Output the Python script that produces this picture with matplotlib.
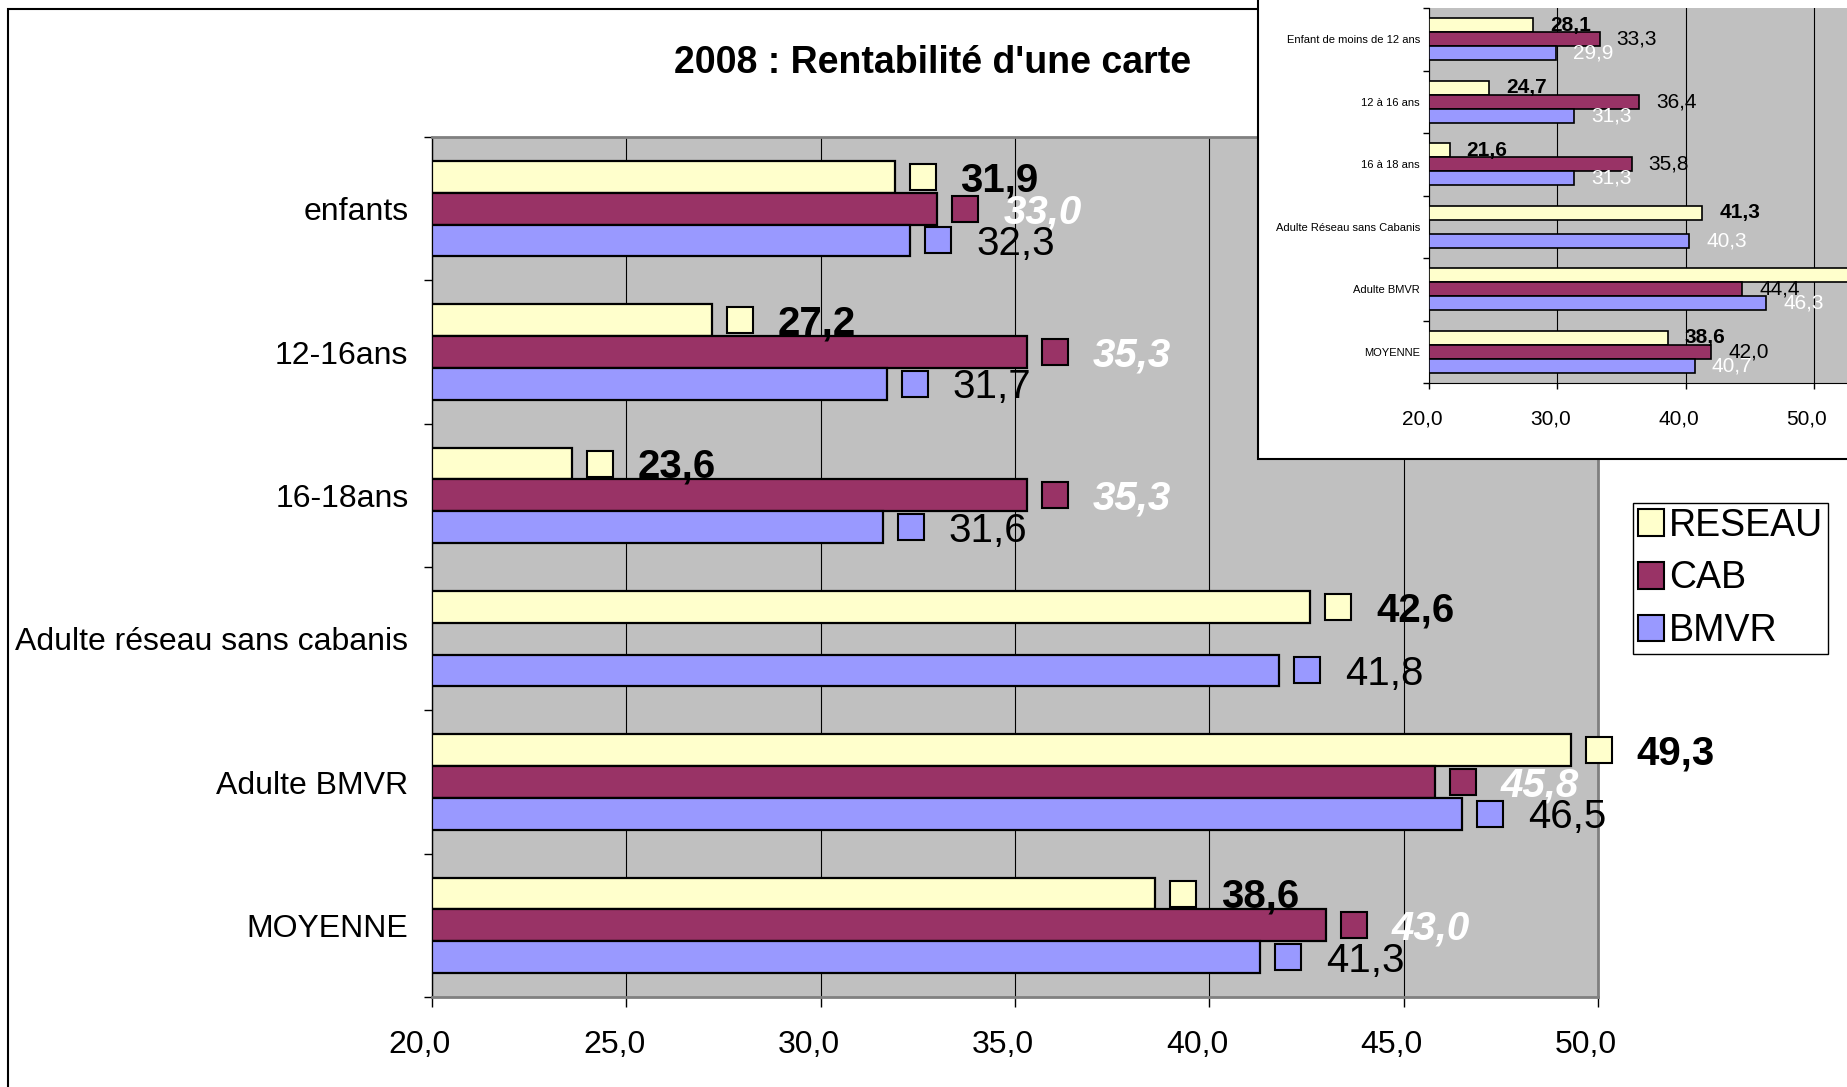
import numpy as np
import matplotlib
matplotlib.use("Agg")
import matplotlib.pyplot as plt
from matplotlib.patches import Rectangle
from matplotlib.transforms import offset_copy, ScaledTranslation
from matplotlib.ticker import FixedLocator

plt.rcParams['font.family'] = ['Liberation Sans', 'DejaVu Sans']

# ---------------- data (main chart) ----------------
categories = ["enfants", "12-16ans", "16-18ans", "Adulte réseau sans cabanis",
              "Adulte BMVR", "MOYENNE"]
series_names = ["RESEAU", "CAB", "BMVR"]
reseau = [31.9, 27.2, 23.6, 42.6, 49.3, 38.6]
cab = [33.0, 35.3, 35.3, np.nan, 45.8, 43.0]
bmvr = [32.3, 31.7, 31.6, 41.8, 46.5, 41.3]
x_ticks = [20.0, 25.0, 30.0, 35.0, 40.0, 45.0, 50.0]
title = "2008 : Rentabilité d'une carte"

# ---------------- data (inset chart) ----------------
inset_categories = ["Enfant de moins de 12 ans", "12 à 16 ans", "16 à 18 ans",
                    "Adulte Réseau sans Cabanis", "Adulte BMVR", "MOYENNE"]
inset_reseau = [28.1, 24.7, 21.6, 41.3, 55.0, 38.6]
inset_cab = [33.3, 36.4, 35.8, np.nan, 44.4, 42.0]
inset_bmvr = [29.9, 31.3, 31.3, 40.3, 46.3, 40.7]
inset_x_ticks = [20.0, 30.0, 40.0, 50.0, 60.0]

colors = ["#FFFFCC", "#993366", "#9999FF"]
plot_bg = "#C0C0C0"

W, H = 1847, 1087
fig = plt.figure(figsize=(W / 100, H / 100), dpi=100)

def fr(x0, y0, x1, y1):
    """pixel box (top-left origin) -> figure fraction rect"""
    return [x0 / W, 1 - y1 / H, (x1 - x0) / W, (y1 - y0) / H]

def fmt(v):
    return f"{v:.1f}".replace('.', ',')

# outer frame of the main chart
fig.patches.append(Rectangle((8 / W, -0.1), 1.2, 1 - 9 / H + 0.1, transform=fig.transFigure,
                             fill=False, edgecolor='black', linewidth=1.5, zorder=0))

# ---------------- main axes ----------------
ax = fig.add_axes(fr(432, 137, 1598, 997))
ax.set_zorder(0.5)
ax.set_facecolor(plot_bg)
ypos = np.arange(len(categories))
bh = 0.222
series = [reseau, cab, bmvr]
offsets = [-bh, 0.0, bh]
for s, vals in enumerate(series):
    ax.barh(ypos + offsets[s], np.array(vals) - 20.0, left=20.0, height=bh,
            color=colors[s], edgecolor='black', linewidth=1.6, zorder=3,
            label=series_names[s])

key_tr = offset_copy(ax.transData, fig=fig, x=28, y=0, units='dots')
styles = [dict(color='black', fontweight='bold', fontstyle='normal'),
          dict(color='white', fontweight='bold', fontstyle='italic'),
          dict(color='black', fontweight='normal', fontstyle='normal')]
for s, vals in enumerate(series):
    for j, v in enumerate(vals):
        if np.isnan(v):
            continue
        y = ypos[j] + offsets[s]
        ax.plot([v], [y], marker='s', markersize=18.5, markerfacecolor=colors[s],
                markeredgecolor='black', markeredgewidth=1.5, transform=key_tr,
                zorder=5, clip_on=False)
        ax.annotate(fmt(v), (v, y), xytext=(66 * 0.72, -2.5), textcoords='offset points',
                    ha='left', va='center', fontsize=29, zorder=6,
                    annotation_clip=False, **styles[s])

ax.set_xlim(20, 50)
ax.set_ylim(len(categories) - 0.5, -0.5)
ax.set_xticks(x_ticks)
ax.set_xticklabels([fmt(t) for t in x_ticks], fontsize=23)
ax.set_yticks(ypos)
ax.set_yticklabels(categories, fontsize=23)
ax.yaxis.set_minor_locator(FixedLocator(np.arange(-0.5, len(categories), 1.0)))
ax.tick_params(axis='y', which='major', length=0, pad=17)
ax.tick_params(axis='y', which='minor', length=6, width=1, color='black', direction='out')
ax.tick_params(axis='x', which='major', length=7, width=1, color='black', direction='out', pad=17)
ax.xaxis.grid(True, color='black', linewidth=0.8)
ax.set_axisbelow(True)
for side in ['top', 'right', 'bottom']:
    ax.spines[side].set_color('#808080')
    ax.spines[side].set_linewidth(2)
ax.spines['left'].set_color('black')
ax.spines['left'].set_linewidth(1)
for lab in ax.get_xticklabels():
    lab.set_transform(lab.get_transform() + ScaledTranslation(-12 / 100, 0, fig.dpi_scale_trans))

fig.text(933 / W, 1 - 63 / H, title, fontsize=27, fontweight='bold', ha='center', va='center')

# legend
handles = [Rectangle((0, 0), 1, 1, facecolor=colors[s], edgecolor='black', linewidth=1.5)
           for s in range(3)]
leg = fig.legend(handles, series_names, loc='center',
                 bbox_to_anchor=((1627 + 1834) / 2 / W, 1 - (501 + 656) / 2 / H),
                 fontsize=27, frameon=True, fancybox=False, edgecolor='black',
                 framealpha=1, handlelength=0.7, handleheight=0.7, handletextpad=0.15,
                 labelspacing=0.45, borderpad=0.12, borderaxespad=0)
leg.get_frame().set_linewidth(1)

# ---------------- inset ----------------
fig.patches.append(Rectangle((1258 / W, 1 - 459 / H), 0.6, 0.6, transform=fig.transFigure,
                             facecolor='white', edgecolor='black', linewidth=1.5, zorder=1))
iax = fig.add_axes([1429 / W, 1 - 383 / H, (60 - 20) * 12.83 / W, 375 / H])
iax.set_zorder(2)
iax.set_facecolor(plot_bg)
ibh = 0.224
iseries = [inset_reseau, inset_cab, inset_bmvr]
for s, vals in enumerate(iseries):
    iax.barh(ypos + offsets[s] / bh * ibh, np.array(vals) - 20.0, left=20.0, height=ibh,
             color=colors[s], edgecolor='black', linewidth=1.2, zorder=3)
istyles = [dict(color='black', fontweight='bold'),
           dict(color='black', fontweight='normal'),
           dict(color='white', fontweight='normal')]
for s, vals in enumerate(iseries):
    for j, v in enumerate(vals):
        if np.isnan(v):
            continue
        y = ypos[j] + offsets[s] / bh * ibh
        iax.annotate(fmt(v), (v, y), xytext=(17 * 0.72, 0), textcoords='offset points',
                     ha='left', va='center', fontsize=15, zorder=6,
                     annotation_clip=False, **istyles[s])
iax.set_xlim(20, 60)
iax.set_ylim(len(categories) - 0.5, -0.5)
iax.set_xticks(inset_x_ticks)
iax.set_xticklabels([fmt(t) for t in inset_x_ticks], fontsize=15)
iax.set_yticks(ypos)
iax.set_yticklabels(inset_categories, fontsize=8)
iax.yaxis.set_minor_locator(FixedLocator(np.arange(-0.5, len(categories), 1.0)))
iax.tick_params(axis='y', which='major', length=0, pad=6.5)
iax.tick_params(axis='y', which='minor', length=4, width=1, color='black', direction='out')
iax.tick_params(axis='x', which='major', length=4, width=1, color='black', direction='out', pad=15)
iax.xaxis.grid(True, color='black', linewidth=0.8)
iax.set_axisbelow(True)
iax.spines['top'].set_visible(False)
iax.spines['right'].set_visible(False)
iax.spines['left'].set_color('black')
iax.spines['bottom'].set_color('black')
for lab in iax.get_xticklabels():
    lab.set_transform(lab.get_transform() + ScaledTranslation(-7 / 100, 0, fig.dpi_scale_trans))

fig.savefig("out.png", dpi=100)
